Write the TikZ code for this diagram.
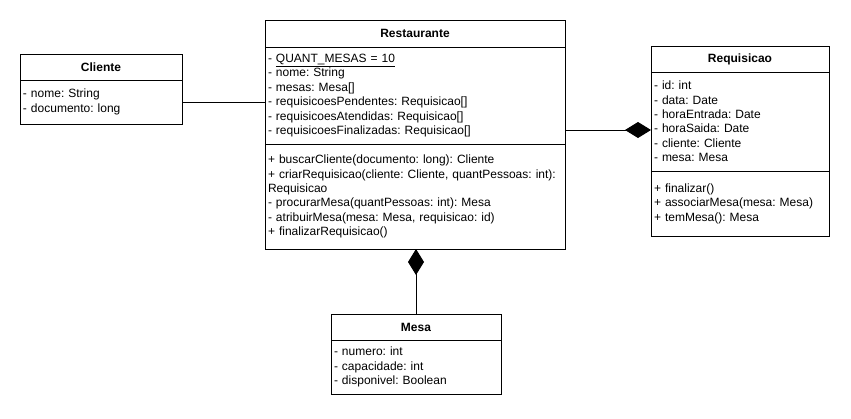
\documentclass[tikz,border=0pt]{standalone}
\usepackage{fontspec}
\setmainfont{Liberation Sans}
\usetikzlibrary{positioning,arrows.meta}
\frenchspacing

\begin{document}
\begin{tikzpicture}[x=1pt,y=-1pt,line width=1pt,node distance=0pt,font=\fontsize{12}{14.4}\selectfont]
 \tikzstyle{classname}=[draw,outer sep=0pt,font=\fontsize{12}{14.4}\selectfont\bfseries]
 \tikzstyle{members}=[draw,outer sep=0pt,inner xsep=3pt,align=left]
 \tikzstyle{compose}=[{Diamond[length=26pt,width=16pt]}-]

\useasboundingbox (0,0) rectangle (851,418);

\node[classname,minimum width=300pt,minimum height=27pt] (rest)   at (415,33.5)   {Restaurante};
\node[members,text width=294pt,minimum height=97pt]      (restattr) [below=of rest]
  {- \underline{QUANT\_MESAS = 10}\\- nome: String\\- mesas: Mesa[]\\- requisicoesPendentes: Requisicao[]\\- requisicoesAtendidas: Requisicao[]\\- requisicoesFinalizadas: Requisicao[]};
\node[members,text width=294pt,minimum height=105pt]     (restmeth) [below=of restattr]
  {+ buscarCliente(documento: long): Cliente\\\mbox{+ criarRequisicao(cliente: Cliente, quantPessoas: int):}\\Requisicao\\- procurarMesa(quantPessoas: int): Mesa\\- atribuirMesa(mesa: Mesa, requisicao: id)\\+ finalizarRequisicao()};

\node[classname,minimum width=162pt,minimum height=26pt] (cli)     at (101,67) {Cliente};
\node[members,text width=156pt,minimum height=44pt]      (cliattr) [below=of cli]
  {- nome: String\\- documento: long};

\node[classname,minimum width=178pt,minimum height=26pt] (req)     at (740,59) {Requisicao};
\node[members,text width=172pt,minimum height=99pt]      (reqattr) [below=of req]
  {- id: int\\- data: Date\\- horaEntrada: Date\\- horaSaida: Date\\- cliente: Cliente\\- mesa: Mesa};
\node[members,text width=172pt,minimum height=65pt]      (reqmeth) [below=of reqattr]
  {+ finalizar()\\+ associarMesa(mesa: Mesa)\\+ temMesa(): Mesa};

\node[classname,minimum width=170pt,minimum height=26pt] (mesa)     at (416,327) {Mesa};
\node[members,text width=164pt,minimum height=54pt]      (mesaattr) [below=of mesa]
  {- numero: int\\- capacidade: int\\- disponivel: Boolean};

\coordinate (reqin) at ([yshift=-8.5pt]reqattr.west);

\draw (cliattr.east) -- (cliattr.east -| restattr.west);
\draw[compose] (reqin) -- (reqin -| restattr.east);
\draw[compose] (mesa.north |- restmeth.south) -- (mesa.north);
\end{tikzpicture}
\end{document}
